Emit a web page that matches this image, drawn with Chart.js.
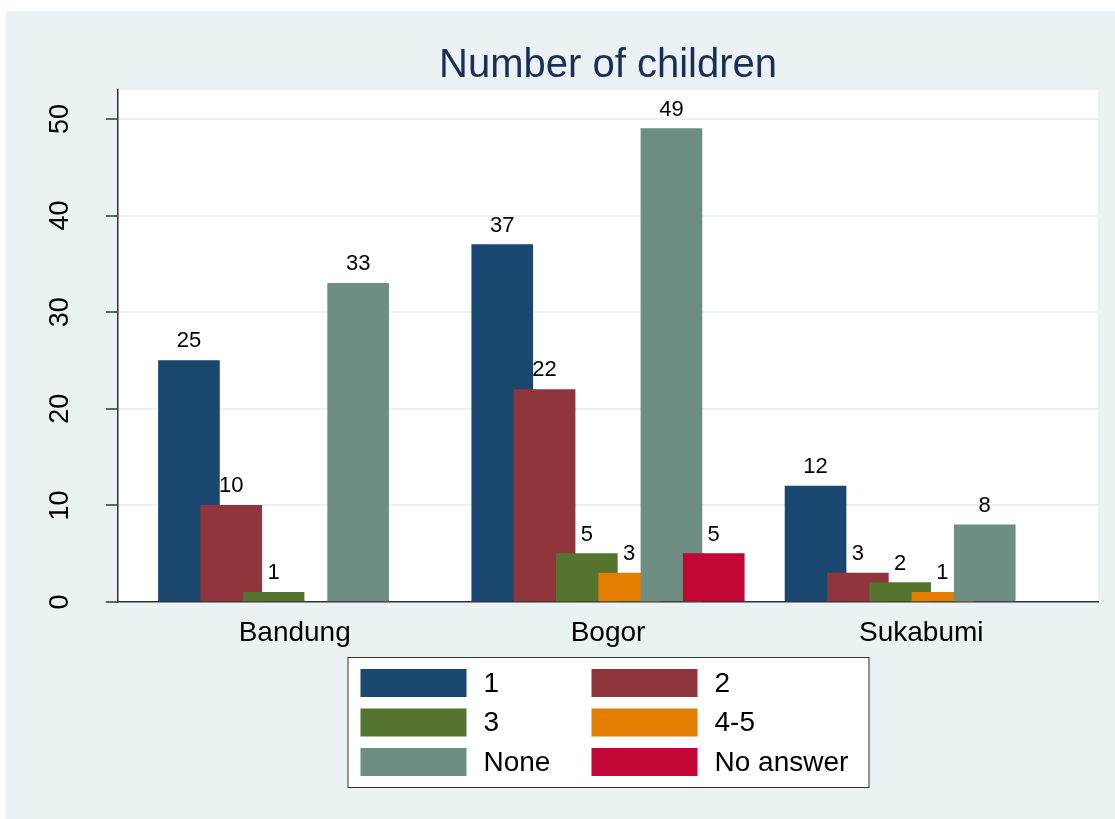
<!DOCTYPE html>
<html>
<head>
<meta charset="utf-8">
<title>Number of children</title>
<script src="https://cdn.jsdelivr.net/npm/chart.js@4/dist/chart.umd.min.js"></script>
<style>
  html, body { margin: 0; padding: 0; background: #fff; }
  #wrap { width: 1115px; height: 819px; }
</style>
</head>
<body>
<div id="wrap"><canvas id="chart"></canvas></div>
<script>
const cities = ["Bandung", "Bogor", "Sukabumi"];
const seriesNames = ["1", "2", "3", "4-5", "None", "No answer"];
const seriesColors = ["#1a476f", "#90353b", "#55752f", "#e37e00", "#6e8e84", "#c10534"];

// counts per city (null = no bar)
const oneChild = [25, 37, 12];
const twoChildren = [10, 22, 3];
const threeChildren = [1, 5, 2];
const fourFive = [null, 3, 1];
const noChildren = [33, 49, 8];
const noAnswer = [null, 5, null];

const yTicks = [0, 10, 20, 30, 40, 50];
const yMax = 53;

const chartTitle = "Number of children";

const series = [oneChild, twoChildren, threeChildren, fourFive, noChildren, noAnswer];

// stata-style overlapping bars: each series shifted a fixed fraction of a group
const slot = 0.135;
const xPad = 0.564;

const FONT = "'Liberation Sans', Arial, Helvetica, sans-serif";
const BG = "#eaf2f3";

const datasets = series.map((values, i) => ({
  label: seriesNames[i],
  data: values.map((v, c) => ({ x: c + (i - (series.length - 1) / 2) * slot, y: v })),
  backgroundColor: seriesColors[i],
  borderWidth: 0,
  barThickness: 61,
  grouped: false,
  order: series.length - i,
}));

const backdrop = {
  id: "backdrop",
  beforeDraw(chart) {
    const { ctx, chartArea } = chart;
    ctx.save();
    ctx.fillStyle = "#ffffff";
    ctx.fillRect(0, 0, chart.width, chart.height);
    ctx.fillStyle = BG;
    ctx.fillRect(6, 11, chart.width - 6, chart.height - 11);
    ctx.fillStyle = "#ffffff";
    ctx.fillRect(chartArea.left, chartArea.top, chartArea.right - chartArea.left, chartArea.bottom - chartArea.top);
    // title centred over the plot region
    ctx.fillStyle = "#1c2d57";
    ctx.font = "40px " + FONT;
    ctx.textAlign = "center";
    ctx.textBaseline = "alphabetic";
    ctx.fillText(chartTitle, (chartArea.left + chartArea.right) / 2, chartArea.top - 13);
    ctx.restore();
  },
};

const barLabels = {
  id: "barLabels",
  afterDatasetsDraw(chart) {
    const { ctx } = chart;
    ctx.save();
    ctx.font = "22px " + FONT;
    ctx.fillStyle = "#000";
    ctx.textAlign = "center";
    ctx.textBaseline = "alphabetic";
    chart.data.datasets.forEach((ds, i) => {
      const meta = chart.getDatasetMeta(i);
      meta.data.forEach((bar, j) => {
        const v = ds.data[j].y;
        if (v === null) return;
        ctx.fillText(String(v), bar.x, bar.y - 13);
      });
    });
    ctx.restore();
  },
};

const boxLegend = {
  id: "boxLegend",
  afterDraw(chart) {
    const { ctx, chartArea } = chart;
    const w = 521, h = 130;
    const left = (chartArea.left + chartArea.right) / 2 - w / 2;
    const top = chartArea.bottom + 55;
    ctx.save();
    ctx.fillStyle = "#fff";
    ctx.fillRect(left, top, w, h);
    ctx.strokeStyle = "#333";
    ctx.lineWidth = 1;
    ctx.strokeRect(left + 0.5, top + 0.5, w, h);
    ctx.font = "28px " + FONT;
    ctx.textBaseline = "middle";
    ctx.textAlign = "left";
    seriesNames.forEach((name, i) => {
      const col = i % 2, row = Math.floor(i / 2);
      const sx = left + (col === 0 ? 13 : 244);
      const sy = top + 12 + row * 39.5;
      ctx.fillStyle = seriesColors[i];
      ctx.fillRect(sx, sy, 106, 28);
      ctx.fillStyle = "#000";
      ctx.fillText(name, sx + 123, sy + 15);
    });
    ctx.restore();
  },
};

new Chart(document.getElementById("chart"), {
  type: "bar",
  data: { datasets },
  plugins: [backdrop, barLabels, boxLegend],
  options: {
    responsive: true,
    maintainAspectRatio: false,
    animation: false,
    layout: { padding: { left: 6, top: 90, right: 17, bottom: 157 } },
    plugins: {
      legend: { display: false },
      tooltip: { enabled: false },
      title: { display: false },
    },
    scales: {
      x: {
        type: "linear",
        offset: false,
        min: -xPad,
        max: cities.length - 1 + xPad,
        afterBuildTicks: (scale) => {
          scale.ticks = cities.map((_, i) => ({ value: i }));
        },
        afterFit: (scale) => { scale.height = 60; },
        ticks: {
          callback: (v) => cities[v],
          color: "#000",
          font: { family: FONT, size: 28 },
          padding: 14,
          maxRotation: 0,
          autoSkip: false,
        },
        grid: { display: false, drawTicks: false },
        border: { display: true, color: "#333", width: 1.5 },
      },
      y: {
        min: 0,
        max: yMax,
        afterBuildTicks: (scale) => {
          scale.ticks = yTicks.map((v) => ({ value: v }));
        },
        afterFit: (scale) => { scale.width = 112; },
        ticks: {
          color: "#000",
          font: { family: FONT, size: 27 },
          minRotation: 90,
          maxRotation: 90,
          crossAlign: "center",
          padding: 30,
        },
        grid: {
          color: BG,
          lineWidth: 2,
          tickColor: "#333",
          tickLength: 12,
          tickWidth: 1.5,
        },
        border: { display: true, color: "#333", width: 1.5 },
      },
    },
  },
});
</script>
</body>
</html>
